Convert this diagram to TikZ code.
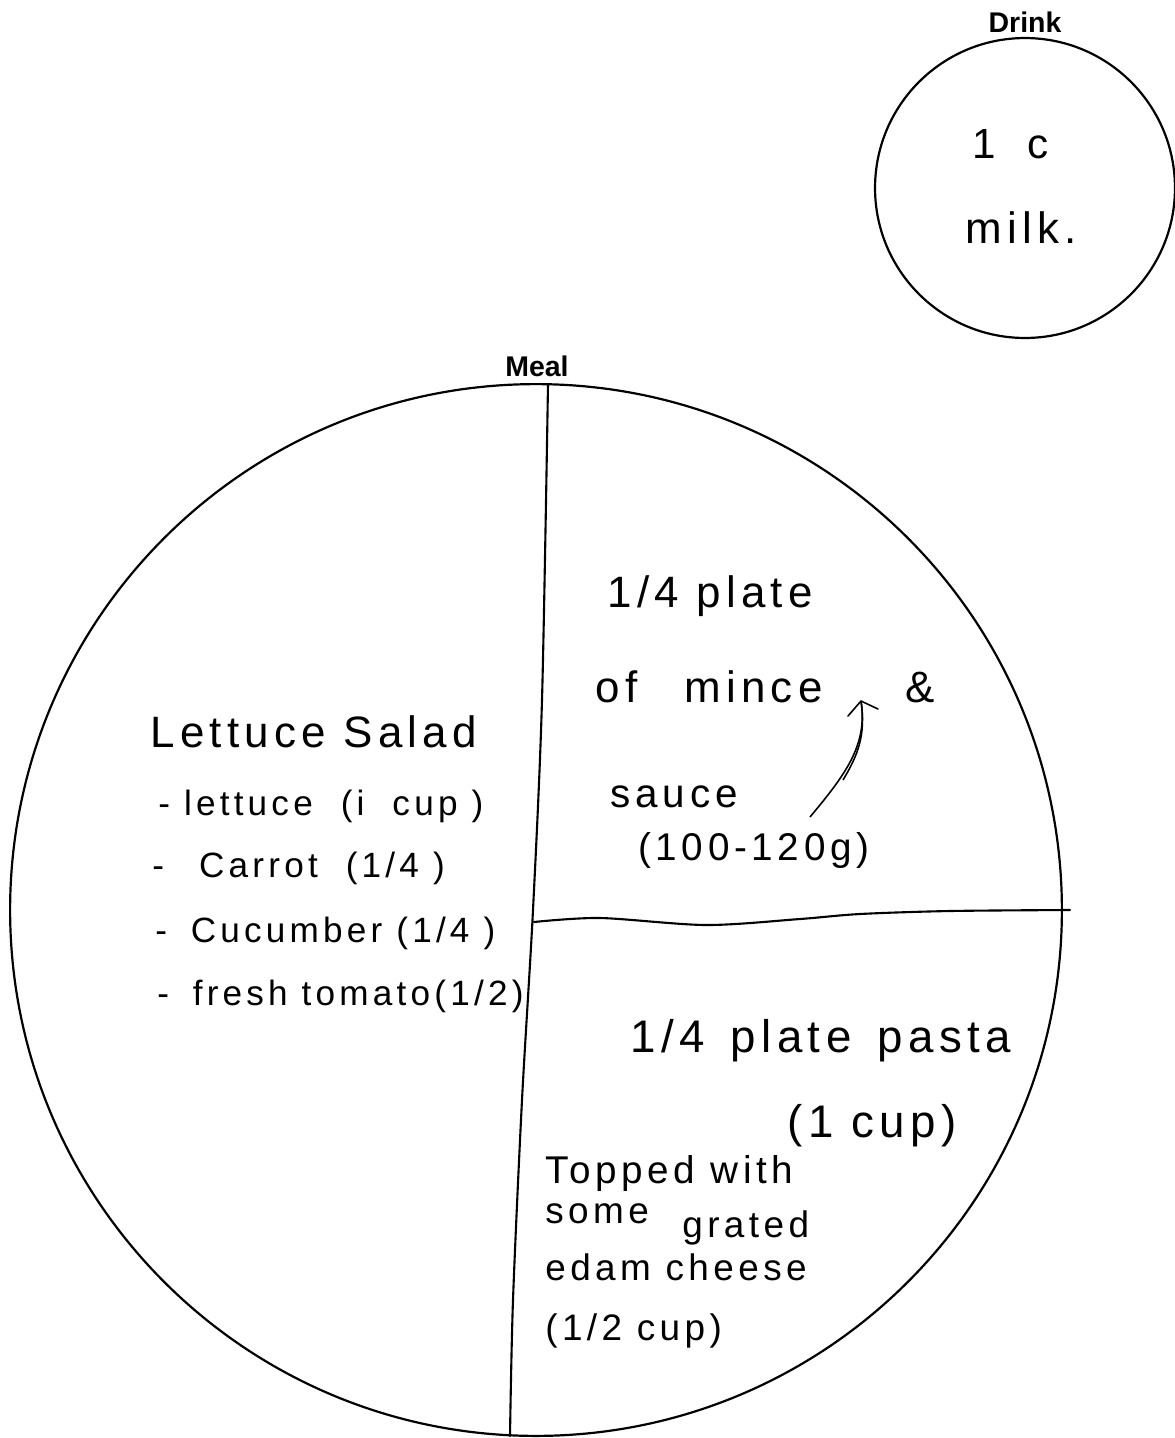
\documentclass[tikz,border=0pt]{standalone}
\usepackage{fontspec}
\newfontfamily\handfam[LetterSpace=12]{Liberation Sans}
\newfontfamily\labfam{Liberation Sans}
\begin{document}
\begin{tikzpicture}[x=0.02cm,y=-0.02cm,
  plate/.style={circle,draw,line width=1.25pt,inner sep=0},
  lab/.style={font=\labfam\bfseries\fontsize{16.2}{18}\selectfont,inner sep=0},
  hand/.style={anchor=base west,inner sep=0,font=\handfam\fontsize{#1}{#1}\selectfont},
  hand/.default=20,
  divider/.style={line width=1.2pt,line cap=round}]
\useasboundingbox[fill=white] (0,0) rectangle (1175,1438);
% plates
\node[plate,minimum size=21.04cm] (meal) at (536,910) {};
\node[plate,minimum size=6cm] (drink) at (1025,188) {};
\node[lab] (meallab) at (537,366) {Meal};
\node[lab] (drinklab) at (1025,22) {Drink};
% dividers
\draw[divider] plot[smooth] coordinates {(548,384) (542,700) (533,910) (522,1100) (513,1300) (510,1436)};
\draw[divider] plot[smooth] coordinates {(534,922) (600,918) (706,925) (800,919) (860,914) (950,911) (1070,910)};
% drink text
\node[hand=24] (onec) at (972,158) {1\hspace{0.75em}c};
\node[hand=25] (milk) at (965,243) {milk.};
% salad
\node[hand=25] (salad) at (150,747) {Lettuce Salad};
\node[hand=20] (lettuce) at (158,815) {- lettuce \ (i \ cup )};
\node[hand=20] (carrot) at (152,877) {-\quad Carrot \ (1/4 )};
\node[hand=20] (cucumber) at (155,942) {-\; Cucumber (1/4 )};
\node[hand=20] (tomato) at (157,1005) {-\; fresh tomato(1/2)};
% mince
\node[hand=25] (mince1) at (607,607) {1/4 plate};
\node[hand=25] (mince2) at (595,702) {of \; mince};
\node[hand=25] (amp) at (905,702) {\&};
\node[hand=23] (sauce) at (610,807) {sauce};
\node[hand=22] (grams) at (638,860) {(100-120g)};
% arrow
\coordinate (arrS) at (810,817);
\coordinate (arrT) at (861,701);
\draw[line width=0.9pt] (arrS) .. controls (845,775) and (868,745) .. (arrT);
\draw[line width=0.9pt] (843,780) .. controls (858,755) and (866,735) .. (arrT);
\draw[line width=0.9pt,line cap=round,line join=round] (848,716) -- (arrT) -- (878,709);
% pasta
\node[hand=26] (pasta) at (630,1052) {1/4 \,plate \,pasta};
\node[hand=26] (cup) at (787,1137) {(1 cup)};
\node[hand=22] (topped) at (545,1183) {Topped with};
\node[hand=21] (some) at (545,1223) {some};
\node[hand=21] (grated) at (682,1237) {grated};
\node[hand=21] (edam) at (545,1280) {edam cheese};
\node[hand=21] (half) at (545,1340) {(1/2 cup)};
\end{tikzpicture}
\end{document}
